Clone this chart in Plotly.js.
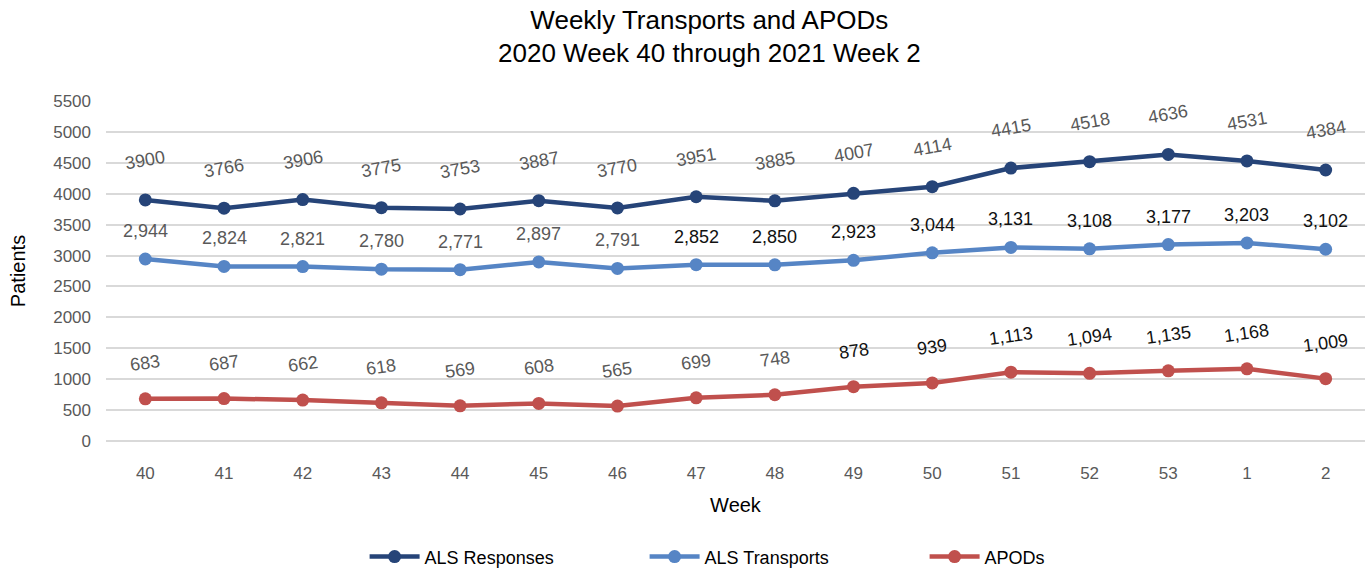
<!DOCTYPE html>
<html><head><meta charset="utf-8">
<script src="https://cdn.plot.ly/plotly-3.0.1.min.js"></script>
<style>html,body{margin:0;padding:0;background:#fff}#chart{width:1372px;height:570px}</style>
</head><body><div id="chart"></div>
<script>
const weeks = ["40","41","42","43","44","45","46","47","48","49","50","51","52","53","1","2"];
const alsResponses = [3900,3766,3906,3775,3753,3887,3770,3951,3885,4007,4114,4415,4518,4636,4531,4384];
const alsTransports = [2944,2824,2821,2780,2771,2897,2791,2852,2850,2923,3044,3131,3108,3177,3203,3102];
const apods = [683,687,662,618,569,608,565,699,748,878,939,1113,1094,1135,1168,1009];
const yTicks = [0,500,1000,1500,2000,2500,3000,3500,4000,4500,5000,5500];

const FONT = "Liberation Sans Narrow, Liberation Sans, Arial, sans-serif";
const cDark = "#264478", cLight = "#5685C5", cRed = "#C0504D";
const idx = weeks.map((w, i) => i);

function mk(name, y, color){
  return {x: idx, y: y, name: name, type: "scatter", mode: "lines+markers",
    line: {color: color, width: 4.5}, marker: {color: color, size: 13}, hoverinfo: "y"};
}
const fmtComma = v => v.toLocaleString("en-US");
const annotations = [];
idx.forEach(i => {
  annotations.push({x: i, y: alsResponses[i], xref: "x", yref: "y", text: String(alsResponses[i]),
    showarrow: false, yshift: 40, textangle: -10, font: {family: FONT, size: 18, color: "#595959"}});
  annotations.push({x: i, y: alsTransports[i], xref: "x", yref: "y", text: fmtComma(alsTransports[i]),
    showarrow: false, yshift: 28, textangle: 0, font: {family: FONT, size: 18, color: i >= 7 ? "#111111" : "#595959"}});
  annotations.push({x: i, y: apods[i], xref: "x", yref: "y", text: fmtComma(apods[i]),
    showarrow: false, yshift: 36, textangle: -8, font: {family: FONT, size: 18, color: i >= 9 ? "#111111" : "#595959"}});
});

const layout = {
  width: 1372, height: 570,
  margin: {l: 106, r: 7, t: 101, b: 129},
  paper_bgcolor: "#fff", plot_bgcolor: "#fff",
  font: {family: FONT, color: "#595959"},
  title: {text: "Weekly Transports and APODs<br>2020 Week 40 through 2021 Week 2",
    font: {family: FONT, size: 26, color: "#000"}, x: 0.517, xanchor: "center",
    yref: "container", y: 0.95, yanchor: "bottom"},
  xaxis: {range: [-0.5, 15.5], tickvals: idx, ticktext: weeks, showgrid: false, zeroline: false, showline: false,
    automargin: false, ticks: "", ticklabelstandoff: 20, tickfont: {family: FONT, size: 17, color: "#595959"},
    title: {text: "Week", font: {family: FONT, size: 20, color: "#000"}, standoff: 15}},
  yaxis: {range: [0, 5500], tickvals: yTicks, showgrid: true, gridcolor: "#D9D9D9", gridwidth: 2,
    zeroline: true, zerolinecolor: "#D9D9D9", zerolinewidth: 2, automargin: false, ticklabelstandoff: 14,
    tickfont: {family: FONT, size: 17, color: "#595959"}, ticks: "", ticklen: 0,
    title: {text: "Patients", font: {family: FONT, size: 20, color: "#000"}, standoff: 22}},
  showlegend: true,
  legend: {orientation: "h", x: 0.539, xanchor: "center", yref: "container", y: 0.023, yanchor: "middle",
    font: {family: FONT, size: 18, color: "#000"}, entrywidth: 215, itemwidth: 50},
  annotations: annotations
};
Plotly.newPlot("chart", [mk("ALS Responses", alsResponses, cDark), mk("ALS Transports", alsTransports, cLight), mk("APODs", apods, cRed)], layout, {displayModeBar: false, staticPlot: true});
</script></body></html>
